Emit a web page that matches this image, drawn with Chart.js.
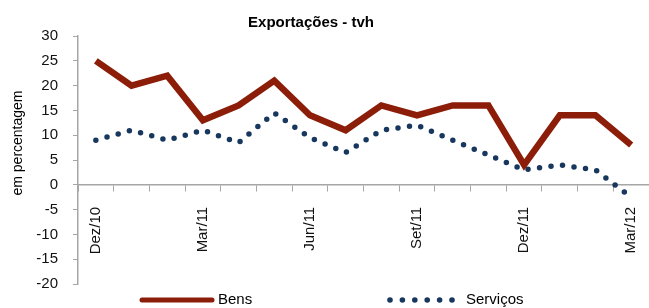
<!DOCTYPE html>
<html>
<head>
<meta charset="utf-8">
<script src="https://cdn.jsdelivr.net/npm/chart.js@4"></script>
<style>
  html, body { margin: 0; padding: 0; background: #fff; }
  #wrap { width: 649px; height: 308px; }
</style>
</head>
<body>
<div id="wrap"><canvas id="exp_chart" width="649" height="308"></canvas></div>
<script>
// months, Dez/10 .. Mar/12
const months = ['Dez/10', 'Jan/11', 'Fev/11', 'Mar/11', 'Abr/11', 'Mai/11', 'Jun/11', 'Jul/11',
                'Ago/11', 'Set/11', 'Out/11', 'Nov/11', 'Dez/11', 'Jan/12', 'Fev/12', 'Mar/12'];
// only every 3rd month gets a label
const shownLabels = ['Dez/10', 'Mar/11', 'Jun/11', 'Set/11', 'Dez/11', 'Mar/12'];

const bens     = [25, 20, 22, 13, 16, 21, 14, 11, 16, 14, 16, 16, 4, 14, 14, 8];
const servicos = [9, 11, 9, 11, 8.5, 14.5, 9.5, 6.5, 11, 12, 9, 6, 3, 4, 3, -2.5];

const yMin = -20, yMax = 30, yStep = 5;

const chartTitle = 'Exportações - tvh';
const yTitle = 'em percentagem';
const seriesNames = ['Bens', 'Serviços'];

const RED = '#8c1d08';
const NAVY = '#17375e';
const AXIS = '#a6a6a6';
const FONT = "'Liberation Sans', Arial, sans-serif";

// titles and the bottom legend, drawn by hand
const decor = {
    id: 'decor',
    afterDraw(chart) {
        const ctx = chart.ctx;
        ctx.save();
        ctx.fillStyle = '#000';
        ctx.textBaseline = 'middle';

        ctx.font = 'bold 15px ' + FONT;
        ctx.textAlign = 'center';
        ctx.fillText(chartTitle, 311, 23);

        ctx.save();
        ctx.translate(18, 143);
        ctx.rotate(-Math.PI / 2);
        ctx.font = '14px ' + FONT;
        ctx.fillText(yTitle, 0, 0);
        ctx.restore();

        // legend
        const ly = 300;
        ctx.strokeStyle = RED;
        ctx.lineWidth = 5;
        ctx.lineCap = 'round';
        ctx.beginPath();
        ctx.moveTo(142, ly);
        ctx.lineTo(212, ly);
        ctx.stroke();

        ctx.fillStyle = NAVY;
        for (let i = 0; i < 6; i++) {
            ctx.beginPath();
            ctx.arc(390 + i * 12.4, ly, 2.8, 0, Math.PI * 2);
            ctx.fill();
        }

        ctx.fillStyle = '#000';
        ctx.font = '15px ' + FONT;
        ctx.textAlign = 'left';
        ctx.fillText(seriesNames[0], 218, ly);
        ctx.fillText(seriesNames[1], 466, ly);
        ctx.restore();
    }
};

const ctx = document.getElementById('exp_chart').getContext('2d');
const expChart = new Chart(ctx, {
    type: 'line',
    data: {
        labels: months,
        datasets: [
            {
                label: seriesNames[0],
                data: bens,
                borderColor: RED,
                borderWidth: 6.5,
                borderJoinStyle: 'miter',
                pointRadius: 0,
                tension: 0
            },
            {
                label: seriesNames[1],
                data: servicos,
                borderColor: NAVY,
                borderWidth: 5.5,
                borderDash: [0, 11.6],
                borderCapStyle: 'round',
                pointRadius: 0,
                tension: 0
            }
        ]
    },
    options: {
        responsive: false,
        animation: false,
        layout: { padding: { left: 0, right: 0, top: 36, bottom: 24 } },
        plugins: {
            legend: { display: false },
            title: { display: false },
            tooltip: { enabled: false }
        },
        scales: {
            x: {
                position: { y: 0 },
                offset: true,
                grid: {
                    offset: true,
                    drawOnChartArea: false,
                    color: AXIS,
                    tickLength: 6
                },
                border: { color: AXIS, width: 1.5 },
                ticks: {
                    autoSkip: false,
                    minRotation: 90,
                    maxRotation: 90,
                    padding: 16,
                    color: '#111',
                    font: { family: FONT, size: 15 },
                    callback: function (v, i) {
                        const m = months[i];
                        return shownLabels.includes(m) ? m : '';
                    }
                },
                afterFit: function (scale) {
                    scale.paddingLeft = 0;
                    scale.paddingRight = 0;
                }
            },
            y: {
                min: yMin,
                max: yMax,
                grid: {
                    drawOnChartArea: false,
                    color: AXIS,
                    tickLength: 5
                },
                border: { color: AXIS, width: 1.5 },
                ticks: {
                    stepSize: yStep,
                    padding: 15,
                    color: '#111',
                    font: { family: FONT, size: 15 }
                },
                afterFit: function (scale) {
                    scale.width = 78;
                }
            }
        }
    },
    plugins: [decor]
});
</script>
</body>
</html>
